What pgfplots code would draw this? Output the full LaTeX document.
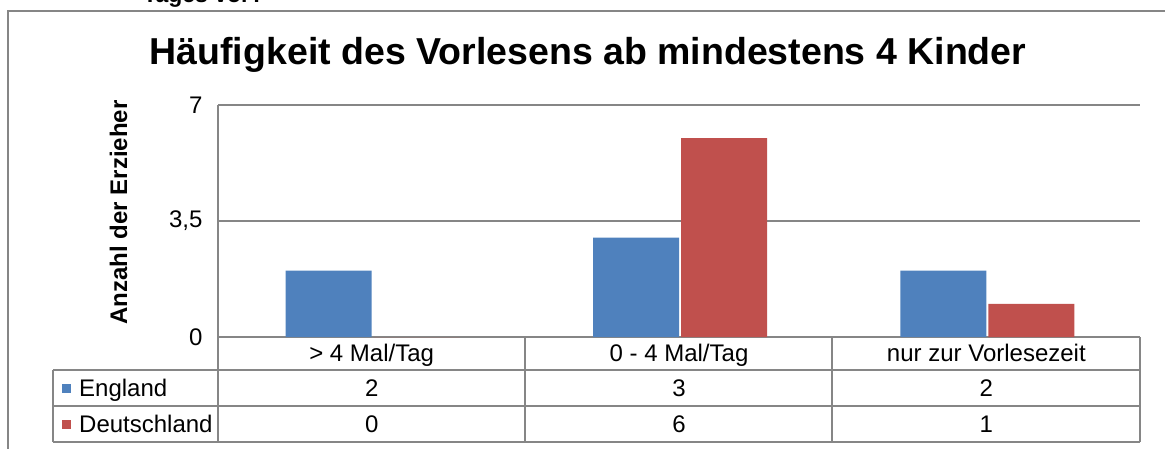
\documentclass[border=0pt]{standalone}
\usepackage{pgfplots}
\pgfplotsset{compat=1.18}
\usepackage{fontspec}
\setmainfont{Liberation Sans}
\definecolor{exblue}{HTML}{4F81BD}
\definecolor{exred}{HTML}{C0504D}
\definecolor{lgray}{HTML}{868686}
\newcommand\fs{\fontsize{24}{28}\selectfont}
\begin{document}
\begin{tikzpicture}[x=1pt,y=1pt]
\useasboundingbox (0,0) rectangle (1165,448);
\draw[lgray, line width=2pt] (8,-20) -- (8,437) -- (1200,437);
\node[anchor=base west, font=\bfseries\fontsize{23}{27}\selectfont, inner sep=0] at (143,445) {Tages vor?};
\node[anchor=base, font=\bfseries\fontsize{37.5}{44}\selectfont, inner sep=0] at (588,383) {Häufigkeit des Vorlesens ab mindestens 4 Kinder};
\node[rotate=90, anchor=base, font=\bfseries\fs, inner sep=0] at (127,235.5) {Anzahl der Erzieher};
\begin{axis}[at={(218pt,111pt)}, anchor=south west, scale only axis,
  width=922pt, height=232pt,
  xmin=-0.5, xmax=2.5, ymin=0, ymax=7,
  ytick={0,3.5,7}, yticklabels={0,{3,5},7},
  xtick={0,1,2}, xticklabels={> 4 Mal/Tag, 0 - 4 Mal/Tag, nur zur Vorlesezeit},
  major tick length=0,
  axis lines*=left,
  axis line style={-, lgray, line width=1.5pt},
  ymajorgrids, grid style={lgray, line width=1.5pt},
  ticklabel style={font=\fs},
  xticklabel style={anchor=base, yshift=-24pt},
  yticklabel style={xshift=-12pt},
  clip=false]
\addplot[ybar, bar width=86pt, bar shift=-43pt, fill=exblue, draw=none] coordinates {(0,2) (1,3) (2,2)};
\addplot[ybar, bar width=86pt, bar shift=45pt, fill=exred, draw=none] coordinates {(0,0) (1,6) (2,1)};
\end{axis}
\begin{scope}[lgray, line width=1.5pt]
\draw (218,111) -- (218,6);
\draw (525,111) -- (525,6);
\draw (832,111) -- (832,6);
\draw (1140,111) -- (1140,6);
\draw (53,78) -- (1140,78);
\draw (53,42) -- (1140,42);
\draw (53,6) -- (1140,6);
\draw (53,78) -- (53,6);
\end{scope}
\fill[exblue] (62,55) rectangle (71,64);
\fill[exred] (62,19) rectangle (71,28);
\node[anchor=base west, font=\fs, inner sep=0] at (79,52) {England};
\node[anchor=base west, font=\fs, inner sep=0] at (79,16) {Deutschland};
\foreach \x/\v in {371.7/2, 679/3, 986.3/2} \node[anchor=base, font=\fs, inner sep=0] at (\x,52) {\v};
\foreach \x/\v in {371.7/0, 679/6, 986.3/1} \node[anchor=base, font=\fs, inner sep=0] at (\x,16) {\v};
\end{tikzpicture}
\end{document}
